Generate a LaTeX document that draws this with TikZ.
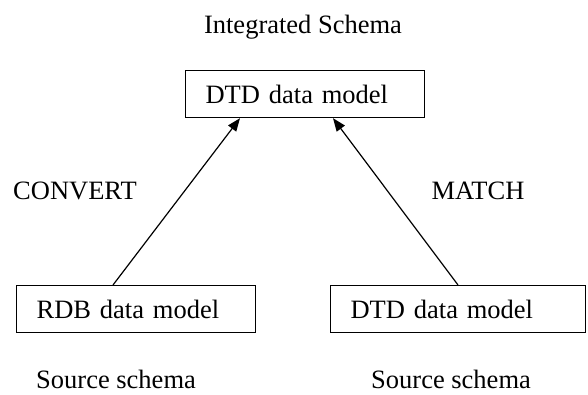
\documentclass[tikz,border=0pt]{standalone}
\usepackage{fontspec}
\setmainfont{Liberation Serif}
\usetikzlibrary{arrows.meta}
\begin{document}
\begin{tikzpicture}[x=1pt,y=-1pt,
  lbl/.style={inner sep=0pt,font=\fontsize{26.5}{30}\selectfont},
  box/.style={draw,line width=1.2pt,anchor=north west,minimum height=47pt,
    inner xsep=20pt,inner ysep=0pt,align=left,font=\fontsize{26.5}{30}\selectfont},
  arr/.style={line width=1.2pt,-{Triangle[length=13pt,width=10pt]}}]
\useasboundingbox (0,0) rectangle (588,394);
\node[lbl] (title) at (303,27) {Integrated Schema};
\node[box,text width=199pt] (t) at (185,70) {DTD data model};
\node[box,text width=199pt] (l) at (16,285) {RDB data model};
\node[box,text width=215pt] (r) at (330,285) {DTD data model};
\node[lbl] (conv) at (75,191) {CONVERT};
\node[lbl] (match) at (478,191) {MATCH};
\node[lbl,anchor=base west] (s1) at (36,388) {Source schema};
\node[lbl,anchor=base west] (s2) at (371,388) {Source schema};
\draw[arr] ([xshift=97pt]l.north west) -- ([xshift=55pt]t.south west);
\draw[arr] ([xshift=128pt]r.north west) -- ([xshift=148pt]t.south west);
\end{tikzpicture}
\end{document}
